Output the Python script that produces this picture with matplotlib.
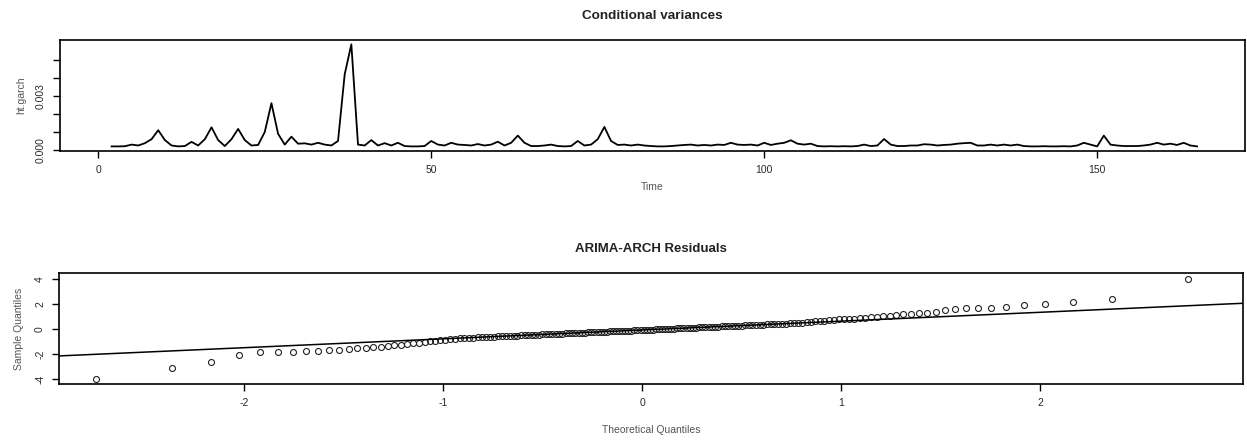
import matplotlib
matplotlib.use("Agg")
import matplotlib.pyplot as plt
from statistics import NormalDist
import numpy as np

plt.rcParams['font.family'] = ['Liberation Sans', 'DejaVu Sans']

# ---- Conditional variances (t = 2 .. 165) ----
t_start = 2
ht_garch = [
    0.00020, 0.00020, 0.00021, 0.00030, 0.00025, 0.00038, 0.00060, 0.00110, 0.00055, 0.00025,  # t2-11
    0.00020, 0.00022, 0.00045, 0.00025, 0.00060, 0.00126, 0.00055, 0.00022, 0.00060, 0.00117,  # t12-21
    0.00055, 0.00025, 0.00028, 0.00100, 0.00260, 0.00090, 0.00030, 0.00074, 0.00035, 0.00037,  # t22-31
    0.00030, 0.00040, 0.00030, 0.00025, 0.00050, 0.00420, 0.00587, 0.00030, 0.00025, 0.00055,  # t32-41
    0.00025, 0.00038, 0.00025, 0.00040, 0.00022, 0.00020, 0.00020, 0.00022, 0.00050, 0.00030,  # t42-51
    0.00025, 0.00040, 0.00030, 0.00028, 0.00025, 0.00033, 0.00025, 0.00030, 0.00046, 0.00025,  # t52-61
    0.00040, 0.00080, 0.00040, 0.00022, 0.00022, 0.00025, 0.00030, 0.00022, 0.00020, 0.00022,  # t62-71
    0.00050, 0.00025, 0.00030, 0.00060, 0.00128, 0.00050, 0.00028, 0.00030, 0.00025, 0.00030,  # t72-81
    0.00025, 0.00022, 0.00020, 0.00020, 0.00022, 0.00025, 0.00028, 0.00030, 0.00025, 0.00028,  # t82-91
    0.00025, 0.00030, 0.00028, 0.00040, 0.00030, 0.00028, 0.00030, 0.00025, 0.00040, 0.00028,  # t92-101
    0.00035, 0.00040, 0.00054, 0.00035, 0.00030, 0.00035, 0.00022, 0.00020, 0.00021, 0.00020,  # t102-111
    0.00021, 0.00020, 0.00022, 0.00030, 0.00022, 0.00025, 0.00061, 0.00030, 0.00022, 0.00022,  # t112-121
    0.00025, 0.00025, 0.00032, 0.00030, 0.00025, 0.00028, 0.00030, 0.00035, 0.00038, 0.00040,  # t122-131
    0.00025, 0.00025, 0.00030, 0.00025, 0.00030, 0.00025, 0.00030, 0.00022, 0.00020, 0.00020,  # t132-141
    0.00021, 0.00020, 0.00020, 0.00021, 0.00020, 0.00025, 0.00040, 0.00030, 0.00020, 0.00080,  # t142-151
    0.00030, 0.00025, 0.00022, 0.00022, 0.00022, 0.00025, 0.00030, 0.00040, 0.00030, 0.00035,  # t152-161
    0.00028, 0.00040, 0.00025, 0.00020,                                                          # t162-165
]
time_idx = np.arange(t_start, t_start + len(ht_garch))
top_xticks = [0, 50, 100, 150]
top_yticks = [0.000, 0.001, 0.002, 0.003, 0.004, 0.005]
top_ylabels = ["0.000", "", "", "0.003", "", ""]

# ---- ARIMA-ARCH residuals (sorted sample values) ----
residuals = [
    -4.03, -3.12, -2.61, -2.08, -1.83, -1.81, -1.80, -1.77, -1.75, -1.68,
    -1.66, -1.63, -1.55, -1.49, -1.45, -1.40, -1.34, -1.29, -1.24, -1.18,
    -1.13, -1.08, -1.03, -0.98, -0.94, -0.90, -0.86, -0.82, -0.78, -0.75,
    -0.72, -0.70, -0.68, -0.67, -0.655, -0.64, -0.625, -0.61, -0.595, -0.58,
    -0.565, -0.555, -0.54, -0.525, -0.515, -0.50, -0.485, -0.47, -0.46, -0.445,
    -0.435, -0.42, -0.41, -0.40, -0.385, -0.375, -0.36, -0.35, -0.34, -0.33,
    -0.315, -0.305, -0.295, -0.285, -0.27, -0.26, -0.25, -0.24, -0.23, -0.215,
    -0.205, -0.195, -0.185, -0.17, -0.16, -0.15, -0.14, -0.13, -0.12, -0.105,
    -0.095, -0.085, -0.075, -0.065, -0.055, -0.04, -0.03, -0.02, -0.01, 0.00,
    0.015, 0.025, 0.035, 0.045, 0.055, 0.07, 0.08, 0.09, 0.10, 0.115,
    0.125, 0.135, 0.145, 0.16, 0.17, 0.18, 0.195, 0.205, 0.215, 0.23,
    0.24, 0.255, 0.265, 0.28, 0.29, 0.305, 0.315, 0.33, 0.34, 0.355,
    0.37, 0.38, 0.395, 0.405, 0.42, 0.435, 0.45, 0.48, 0.50, 0.52,
    0.55, 0.58, 0.61, 0.64, 0.67, 0.71, 0.74, 0.77, 0.80, 0.82,
    0.84, 0.86, 0.89, 0.94, 0.99, 1.04, 1.08, 1.12, 1.18, 1.23,
    1.27, 1.31, 1.39, 1.52, 1.57, 1.65, 1.70, 1.72, 1.74, 1.96,
    1.98, 2.19, 2.37, 3.97,
]
bot_xticks = [-2, -1, 0, 1, 2]
bot_yticks = [-4, -2, 0, 2, 4]

# ---- figure ----
W, H = 1247, 443
fig = plt.figure(figsize=(W / 100, H / 100), dpi=100)

def frac(left, top, right, bottom):
    return [left / W, 1 - bottom / H, (right - left) / W, (bottom - top) / H]

tick_col = '#2a2a2a'
lab_col = '#555555'

# Top panel
ax1 = fig.add_axes(frac(60, 40, 1245, 151))
ax1.plot(time_idx, ht_garch, color='black', lw=1.3)
ax1.set_xlim(-5.75, 172.2)
ax1.set_ylim(-0.0000556, 0.00611)
ax1.set_xticks(top_xticks)
ax1.set_xticklabels([str(v) for v in top_xticks])
ax1.set_yticks(top_yticks)
ax1.set_yticklabels(top_ylabels, rotation=90, va='center')
ax1.set_title("Conditional variances", fontsize=9.7, fontweight='bold', pad=15, color='#222222')
ax1.set_xlabel("Time", fontsize=7.5, color=lab_col, labelpad=5)
ax1.set_ylabel("ht.garch", fontsize=7.5, color=lab_col, labelpad=7)

# Bottom panel
ax2 = fig.add_axes(frac(59, 273, 1243, 384))
n = len(residuals)
nd = NormalDist()
theo = [nd.inv_cdf((i + 0.5) / n) for i in range(n)]
sample = sorted(residuals)
ax2.plot(theo, sample, linestyle='none', marker='o', markersize=4.3,
         markerfacecolor='none', markeredgecolor='#222222', markeredgewidth=0.8)
q1, q3 = np.percentile(sample, [25, 75])
z1, z3 = nd.inv_cdf(0.25), nd.inv_cdf(0.75)
slope = (q3 - q1) / (z3 - z1)
intercept = q1 - slope * z1
ax2.axline((0, intercept), slope=slope, color='black', lw=1.1)
ax2.set_xlim(-2.93, 3.02)
ax2.set_ylim(-4.4, 4.48)
ax2.set_xticks(bot_xticks)
ax2.set_xticklabels([str(v) for v in bot_xticks])
ax2.set_yticks(bot_yticks)
ax2.set_yticklabels([str(v) for v in bot_yticks], rotation=90, va='center')
ax2.set_title("ARIMA-ARCH Residuals", fontsize=9.5, fontweight='bold', pad=15, color='#222222')
ax2.set_xlabel("Theoretical Quantiles", fontsize=7.5, color=lab_col, labelpad=12)
ax2.set_ylabel("Sample Quantiles", fontsize=7.5, color=lab_col, labelpad=8)

for ax in (ax1, ax2):
    for s in ax.spines.values():
        s.set_linewidth(1.2)
        s.set_color('black')
    ax.tick_params(direction='out', length=5, width=1.0, labelsize=7.5,
                   colors='black', labelcolor=tick_col, pad=5)

fig.savefig("out.png", dpi=100)
